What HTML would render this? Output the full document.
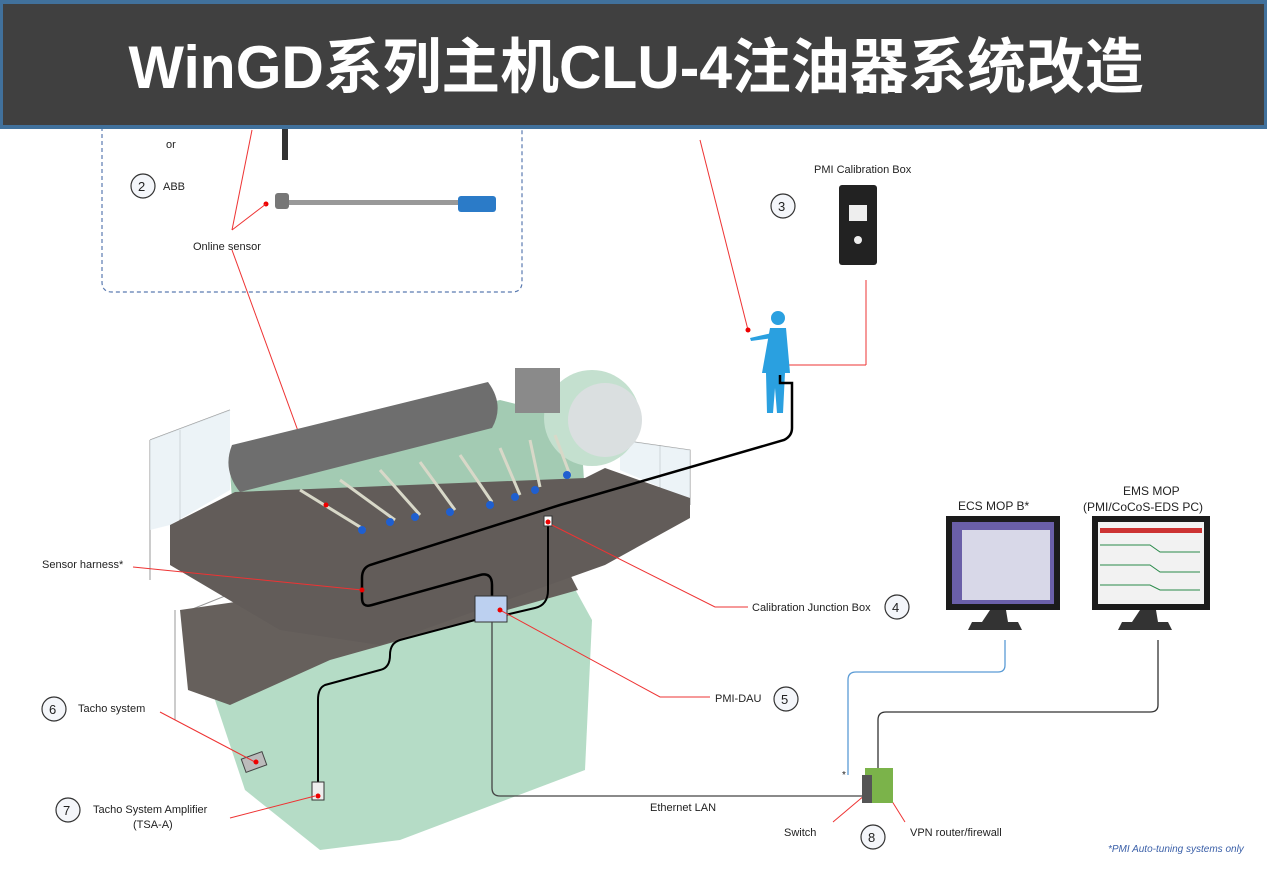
<!DOCTYPE html>
<html><head><meta charset="utf-8"><style>
html,body{margin:0;padding:0;background:#fff;}
svg{display:block;}
text{font-family:"Liberation Sans",sans-serif;font-size:11px;fill:#222;}
</style></head><body>
<svg width="1267" height="870" viewBox="0 0 1267 870" xmlns="http://www.w3.org/2000/svg">
<rect width="1267" height="870" fill="#fff"/>
<path d="M102,120 V282 Q102,292 112,292 H512 Q522,292 522,282 V120" fill="none" stroke="#5a7ab0" stroke-width="1.2" stroke-dasharray="4,3"/>
<text x="166" y="148">or</text>
<circle cx="143" cy="186" r="12" fill="#f4f6fa" stroke="#333" stroke-width="1.2"/><text x="138" y="191" style="font-size:13px">2</text>
<text x="163" y="190">ABB</text>
<text x="193" y="250">Online sensor</text>
<rect x="282" y="128" width="6" height="32" fill="#333"/>
<rect x="275" y="193" width="14" height="16" rx="3" fill="#777"/>
<rect x="289" y="200" width="170" height="5" fill="#999"/>
<rect x="458" y="196" width="38" height="16" rx="3" fill="#2b7bc8"/>
<circle cx="266" cy="204" r="2.5" fill="#e00"/>
<line x1="252" y1="130" x2="232" y2="230" stroke="#e33" stroke-width="1"/>
<line x1="266" y1="204" x2="232" y2="230" stroke="#e33" stroke-width="1"/>
<line x1="232" y1="250" x2="325" y2="505" stroke="#e33" stroke-width="1"/>
<text x="814" y="173">PMI Calibration Box</text>
<circle cx="783" cy="206" r="12" fill="#f4f6fa" stroke="#333" stroke-width="1.2"/><text x="778" y="211" style="font-size:13px">3</text>
<rect x="839" y="185" width="38" height="80" rx="3" fill="#222"/>
<rect x="849" y="205" width="18" height="16" fill="#eee"/>
<circle cx="858" cy="240" r="4" fill="#eee"/>
<line x1="866" y1="280" x2="866" y2="365" stroke="#e33"/><line x1="866" y1="365" x2="780" y2="365" stroke="#e33"/>
<line x1="700" y1="140" x2="748" y2="330" stroke="#e33"/>
<g fill="#2aa0e0"><circle cx="778" cy="318" r="7"/><path d="M770,328 h16 l4,45 h-5 l-2,40 h-6 l-2,-25 -2,25 h-6 l-1,-40 h-4z"/><path d="M772,333 l-22,5 1,3 22,-3z"/></g>
<!-- engine -->
<g stroke="#999" stroke-width="1" fill="none"><path d="M150,440 V580 M180,430 V560 M150,440 L230,410 M620,440 L690,450 V505 M660,445 V505 M175,720 V610 M190,610 L240,590"/></g>
<polygon points="150,440 230,410 230,490 170,525 150,530" fill="#e4eef4" opacity="0.7"/>
<polygon points="620,440 690,450 690,500 620,470" fill="#e4eef4" opacity="0.7"/>
<polygon points="215,640 570,580 592,620 585,770 400,840 320,850 245,790 215,700" fill="#b5dcc6"/>
<polygon points="180,610 560,555 578,590 330,660 230,705 188,690" fill="#66605c"/>
<polygon points="235,545 230,470 500,400 580,420 585,495 380,550" fill="#a3cbb3"/>
<path d="M232,445 L488,382 Q505,405 492,428 L240,492 Q222,470 232,445z" fill="#6e6e6e"/>
<polygon points="170,525 235,492 585,478 605,468 690,498 690,518 605,565 380,645 280,630 170,565" fill="#625c59"/>
<circle cx="592" cy="418" r="48" fill="#c4e0cf"/><circle cx="605" cy="420" r="37" fill="#dadfe0"/>
<rect x="515" y="368" width="45" height="45" fill="#8a8a8a"/>
<g stroke="#d8d8c8" stroke-width="3"><path d="M300,490 L365,530 M340,480 L395,520 M380,470 L420,515 M420,462 L455,510 M460,455 L492,502 M500,448 L520,495 M530,440 L540,487 M555,435 L570,475"/></g>
<g fill="#1f5fd0"><circle cx="362" cy="530" r="4"/><circle cx="390" cy="522" r="4"/><circle cx="415" cy="517" r="4"/><circle cx="450" cy="512" r="4"/><circle cx="490" cy="505" r="4"/><circle cx="515" cy="497" r="4"/><circle cx="535" cy="490" r="4"/><circle cx="567" cy="475" r="4"/></g>
<path d="M780,375 v8 h12 v45 q0,8 -8,12 L560,505 L370,565 Q362,568 362,578 V598 Q362,608 372,605 L480,575 Q492,572 492,585 V602" fill="none" stroke="#000" stroke-width="2.5"/>
<path d="M548,520 V590 Q548,605 535,608 L505,615" fill="none" stroke="#000" stroke-width="2"/>
<path d="M475,620 L400,640 Q390,643 390,655 Q390,668 380,670 L325,685 Q318,688 318,700 V785" fill="none" stroke="#000" stroke-width="2"/>
<rect x="475" y="596" width="32" height="26" fill="#bcd0f0" stroke="#333"/>
<rect x="544" y="516" width="8" height="10" fill="#fff" stroke="#333"/>
<rect x="312" y="782" width="12" height="18" fill="#eee" stroke="#333"/>
<rect x="243" y="755" width="22" height="14" fill="#bbb" stroke="#444" transform="rotate(-20 254 762)"/>
<path d="M492,622 V788 Q492,796 500,796 H862" fill="none" stroke="#444" stroke-width="1.3"/>
<g stroke="#e33" fill="none"><path d="M133,567 L362,590"/><path d="M552,525 L715,607 H748"/><path d="M500,610 L660,697 H710"/><path d="M160,712 L255,762"/><path d="M230,818 L315,796"/><path d="M833,822 L865,795"/><path d="M905,822 L885,790"/></g>
<g fill="#e00"><circle cx="362" cy="590" r="2.5"/><circle cx="500" cy="610" r="2.5"/><circle cx="548" cy="522" r="2.5"/><circle cx="256" cy="762" r="2.5"/><circle cx="318" cy="796" r="2.5"/><circle cx="326" cy="505" r="2.5"/><circle cx="748" cy="330" r="2.5"/></g>
<text x="42" y="568">Sensor harness*</text>
<text x="752" y="611">Calibration Junction Box</text>
<circle cx="897" cy="607" r="12" fill="#f4f6fa" stroke="#333" stroke-width="1.2"/><text x="892" y="612" style="font-size:13px">4</text>
<text x="715" y="702">PMI-DAU</text>
<circle cx="786" cy="699" r="12" fill="#f4f6fa" stroke="#333" stroke-width="1.2"/><text x="781" y="704" style="font-size:13px">5</text>
<circle cx="54" cy="709" r="12" fill="#f4f6fa" stroke="#333" stroke-width="1.2"/><text x="49" y="714" style="font-size:13px">6</text>
<text x="78" y="712">Tacho system</text>
<circle cx="68" cy="810" r="12" fill="#f4f6fa" stroke="#333" stroke-width="1.2"/><text x="63" y="815" style="font-size:13px">7</text>
<text x="93" y="813">Tacho System Amplifier</text>
<text x="133" y="828">(TSA-A)</text>
<text x="650" y="811">Ethernet LAN</text>
<text x="958" y="510" style="font-size:12px">ECS MOP B*</text>
<text x="1123" y="495" style="font-size:12px">EMS MOP</text>
<text x="1083" y="511" style="font-size:12px">(PMI/CoCoS-EDS PC)</text>
<rect x="946" y="516" width="114" height="94" fill="#1b1b1b"/><rect x="952" y="522" width="102" height="82" fill="#6a5fa8"/>
<rect x="962" y="530" width="88" height="70" fill="#d8d8e8"/>
<rect x="1092" y="516" width="118" height="94" fill="#1b1b1b"/><rect x="1098" y="522" width="106" height="82" fill="#f2f2f2"/>
<rect x="1100" y="528" width="102" height="5" fill="#c33"/>
<path d="M1100,545 H1150 L1160,552 H1200 M1100,565 H1150 L1160,572 H1200 M1100,585 H1150 L1160,590 H1200" stroke="#2a8a4a" fill="none"/>
<path d="M990,610 h16 l2,12 h10 l4,8 h-54 l4,-8 h10z" fill="#333"/>
<path d="M1140,610 h16 l2,12 h10 l4,8 h-54 l4,-8 h10z" fill="#333"/>
<path d="M1005,640 V665 Q1005,672 998,672 H856 Q848,672 848,680 V775" fill="none" stroke="#5a9bd5" stroke-width="1.3"/>
<path d="M1158,640 V705 Q1158,712 1150,712 H886 Q878,712 878,720 V770" fill="none" stroke="#333" stroke-width="1.3"/>
<text x="842" y="778" style="font-size:10px">*</text>
<rect x="865" y="768" width="28" height="35" fill="#7bb34a"/><rect x="862" y="775" width="10" height="28" fill="#555"/>
<text x="784" y="836">Switch</text>
<text x="910" y="836">VPN router/firewall</text>
<circle cx="873" cy="837" r="12" fill="#f4f6fa" stroke="#333" stroke-width="1.2"/><text x="868" y="842" style="font-size:13px">8</text>
<text x="1108" y="852" style="font-size:10px;font-style:italic;fill:#3a5fa8">*PMI Auto-tuning systems only</text>
<rect x="0" y="0" width="1267" height="129" fill="#41719c"/>
<rect x="3" y="4" width="1261" height="121" fill="#404040"/>
<text x="636" y="88" text-anchor="middle" textLength="1015" lengthAdjust="spacingAndGlyphs" style="font-family:'Liberation Sans','Noto Sans CJK SC',sans-serif;font-size:60px;font-weight:bold;fill:#fff">WinGD系列主机CLU-4注油器系统改造</text>
</svg>
</body></html>
